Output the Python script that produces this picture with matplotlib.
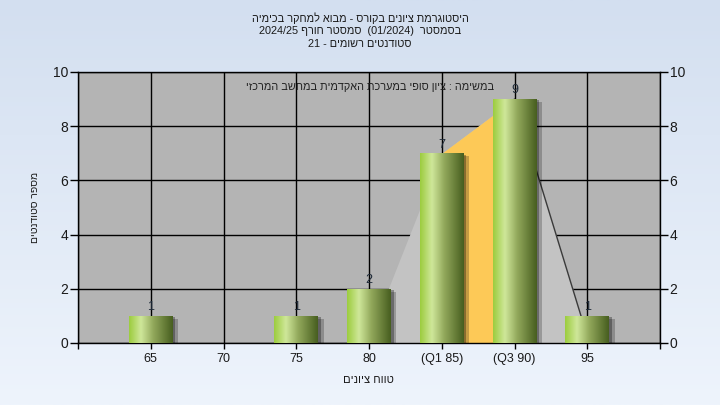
import re
import numpy as np
import matplotlib
matplotlib.use("Agg")
import matplotlib.pyplot as plt
import matplotlib.patheffects as pe
from matplotlib.colors import LinearSegmentedColormap

plt.rcParams['font.family'] = ['Liberation Sans', 'DejaVu Sans']

# ---------------- data ----------------
categories = ['65', '70', '75', '80', '(Q1 85)', '(Q3 90)', '95']
counts = [1, 0, 1, 2, 7, 9, 1]
# distribution area (light grey) read at categories 80, 85, 90, 95
curve_cats = [3, 4, 5, 6]          # indices into categories
curve_values = [0.2, 7.0, 9.0, 0.25]
q1_index, q3_index = 4, 5

title_lines = ["היסטוגרמת ציונים בקורס - מבוא למחקר בכימיה",
               "בסמסטר  (01/2024)  סמסטר חורף 2024/25",
               "סטודנטים רשומים - 21"]
inner_text = "במשימה : ציון סופי במערכת האקדמית במחשב המרכזי"
xlabel = "טווח ציונים"
ylabel = "מספר סטודנטים"


def visual(s):
    """simple bidi: logical RTL string -> visual LTR order"""
    r = s[::-1]
    r = re.sub(r'[0-9A-Za-z/.]+', lambda m: m.group(0)[::-1], r)
    return r.translate(str.maketrans('()', ')('))


# ---------------- figure ----------------
fig = plt.figure(figsize=(7.2, 4.05), dpi=100)

# background gradient
bg = fig.add_axes([0, 0, 1, 1], zorder=-10)
grad = np.linspace(0, 1, 256)[:, None]
bg_cmap = LinearSegmentedColormap.from_list('bg', ['#d3dff0', '#eef4fc'])
bg.imshow(grad, aspect='auto', cmap=bg_cmap, extent=[0, 1, 0, 1])
bg.set_axis_off()

ax = fig.add_axes([78 / 720, 1 - 343 / 405, 582 / 720, 271 / 405])
ax.set_facecolor('#b4b4b4')
ax.set_axisbelow(True)

xpos = np.arange(1, len(categories) + 1)

# distribution area
cx = [xpos[i] for i in curve_cats]
ax.fill_between(cx, 0, curve_values, color='#c3c3c3', lw=0, zorder=1.2)
# IQR area
ax.fill_between([xpos[q1_index], xpos[q3_index]], 0,
                [counts[q1_index], counts[q3_index]],
                color='#fdc957', lw=0, zorder=1.4)
# right edge line of distribution
ax.plot(cx[2:], curve_values[2:], color='#3a3a3a', lw=1.0, zorder=1.5)

# bars with gradient
bar_cmap = LinearSegmentedColormap.from_list(
    'bar', [(0.0, '#9ccc3e'), (0.27, '#cfe79a'), (0.55, '#93a95c'),
            (1.0, '#475e1f')])
gimg = np.linspace(0, 1, 128)[None, :]
bars = ax.bar(xpos, counts, width=0.6, color='#6d8a35', zorder=2,
              path_effects=[pe.SimplePatchShadow(offset=(4, -2), shadow_rgbFace='black', alpha=0.22),
                            pe.SimplePatchShadow(offset=(2, -1), shadow_rgbFace='black', alpha=0.3),
                            pe.Normal()])
for b, c in zip(bars, counts):
    if c <= 0:
        continue
    x0, w, h = b.get_x(), b.get_width(), b.get_height()
    im = ax.imshow(gimg, extent=[x0, x0 + w, 0, h], aspect='auto',
                   cmap=bar_cmap, zorder=3, interpolation='bicubic')
    im.set_clip_path(b)
    ax.annotate(str(c), (b.get_x() + w / 2, h), xytext=(0, 2),
                textcoords='offset points', ha='center', va='bottom',
                fontsize=9, color='#1e2a38', zorder=4)

ax.set_xlim(0, 8)
ax.set_ylim(0, 10)
ax.set_xticks(np.arange(0, 9))
ax.set_xticklabels([''] + categories + [''])
ax.set_yticks(np.arange(0, 11, 2))
ax.grid(True, color='black', lw=1.0)
for sp in ax.spines.values():
    sp.set_color('black')
    sp.set_linewidth(1.0)

ax.tick_params(axis='y', which='both', left=True, right=True,
               labelleft=True, labelright=True, length=6, width=1,
               pad=1, labelsize=10, colors='black')
ax.tick_params(axis='x', length=4, width=1, pad=3, labelsize=9)
for lbl in ax.get_yticklabels() + ax.get_xticklabels():
    lbl.set_color('#1a1a1a')

ax.text(0.502, 0.945, visual(inner_text), transform=ax.transAxes,
        ha='center', va='center', fontsize=7.8, color='#222222', zorder=5)

fig.text(368 / 720, 1 - 380 / 405, visual(xlabel), ha='center', va='center',
         fontsize=8, color='#1a1a1a')
fig.text(35 / 720, 1 - 207 / 405, visual(ylabel), ha='center', va='center',
         rotation=90, fontsize=7.5, color='#1a1a1a')

for line, yy in zip(title_lines, [18, 31, 44]):
    fig.text(0.5, 1 - yy / 405, visual(line), ha='center', va='center',
             fontsize=7.8, color='#1a1a1a')

fig.savefig('out.png', dpi=100)
